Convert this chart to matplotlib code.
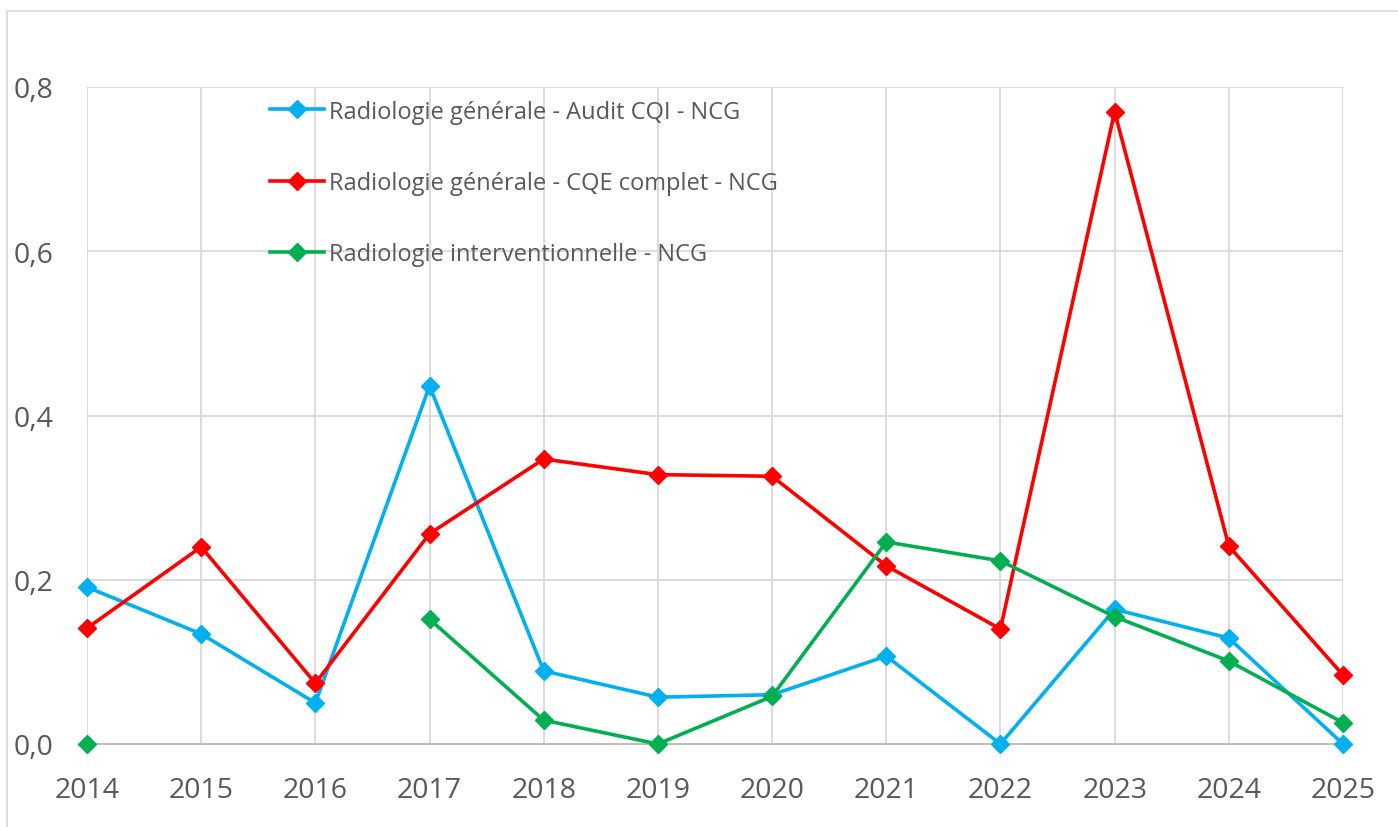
import numpy as np
import matplotlib
matplotlib.use("Agg")
import matplotlib.pyplot as plt
from matplotlib.patches import Rectangle

plt.rcParams['font.family'] = ['Open Sans', 'DejaVu Sans']

years = [2014, 2015, 2016, 2017, 2018, 2019, 2020, 2021, 2022, 2023, 2024, 2025]
audit_cqi = [0.191, 0.134, 0.050, 0.436, 0.089, 0.057, 0.060, 0.107, 0.0, 0.164, 0.129, 0.0]
cqe_complet = [0.141, 0.240, 0.074, 0.256, 0.347, 0.328, 0.326, 0.217, 0.140, 0.770, 0.241, 0.084]
interv = [0.0, np.nan, np.nan, 0.152, 0.029, 0.0, 0.058, 0.246, 0.223, 0.155, 0.101, 0.026]

labels = ['Radiologie générale - Audit CQI - NCG',
          'Radiologie générale - CQE complet - NCG',
          'Radiologie interventionnelle - NCG']
colors = ['#00B0F0', '#FF0000', '#00B050']
yticks = [0.0, 0.2, 0.4, 0.6, 0.8]

TEXT = '#595959'
GRID = '#D9D9D9'

fig = plt.figure(figsize=(13.98, 8.28), dpi=100)
ax = fig.add_axes([87 / 1398, 1 - 745 / 828, (1343 - 87) / 1398, (745 - 88) / 828])

for vals, col, lab in zip([audit_cqi, cqe_complet, interv], colors, labels):
    ax.plot(years, vals, '-D', color=col, label=lab, linewidth=2.6,
            markersize=9, clip_on=False, zorder=3)

ax.set_xlim(2014, 2025)
ax.set_ylim(0, 0.8)
ax.set_xticks(years)
ax.set_xticklabels([str(y) for y in years])
ax.set_yticks(yticks)
ax.set_yticklabels([f'{v:.1f}'.replace('.', ',') for v in yticks])
ax.tick_params(length=0, labelsize=20.5, colors=TEXT)
ax.tick_params(axis='x', pad=23)
ax.tick_params(axis='y', pad=24)
ax.grid(True, color=GRID, linewidth=1.3)
ax.set_axisbelow(True)
for s in ['top', 'right', 'left']:
    ax.spines[s].set_visible(False)
ax.spines['bottom'].set_color('#BFBFBF')
ax.spines['bottom'].set_linewidth(1.5)

leg = ax.legend(loc='upper left', bbox_to_anchor=(265 / 1398, 1 - 96 / 828),
                bbox_transform=fig.transFigure, frameon=False, fontsize=17,
                labelspacing=2.0, handlelength=2.3, handletextpad=0.2,
                borderaxespad=0, borderpad=0.2)
for t in leg.get_texts():
    t.set_color(TEXT)

# light frame around the chart area
fig.add_artist(Rectangle((7 / 1398, -0.5), 2.0, 0.5 + (1 - 12 / 828),
                         transform=fig.transFigure, fill=False,
                         edgecolor='#D9D9D9', linewidth=1.3))

plt.savefig('out.png', dpi=100)
plt.close()
